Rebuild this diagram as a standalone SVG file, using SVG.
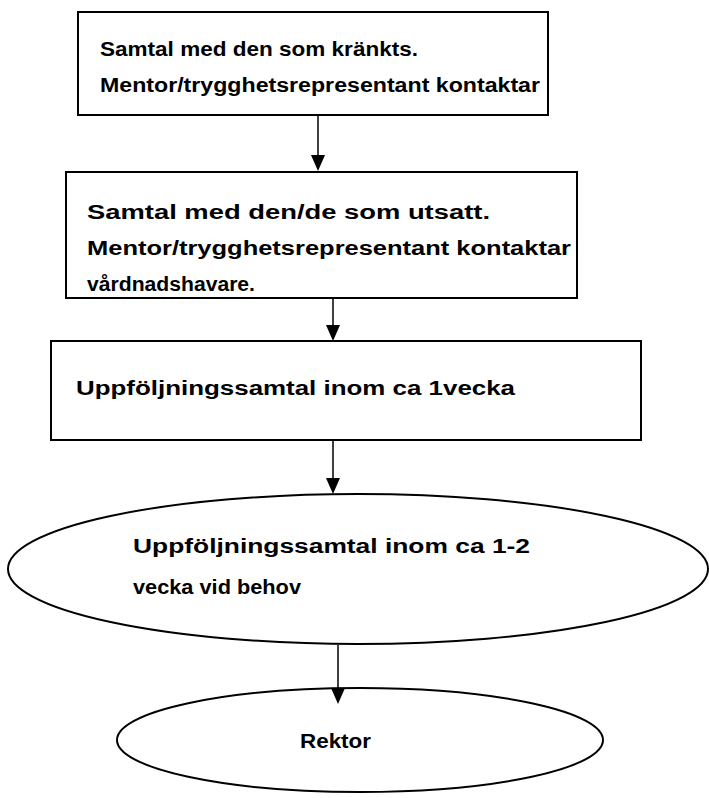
<svg xmlns="http://www.w3.org/2000/svg" width="709" height="798" viewBox="0 0 709 798">
<style>
.n{fill:#fff;stroke:#000;stroke-width:2}
.t{font-family:"Liberation Sans",Arial,sans-serif;font-weight:bold;font-size:20px;fill:#000}
.c{stroke:#000;stroke-width:1.5;fill:none}
.h{fill:#000}
</style>
<rect width="709" height="798" fill="#fff"/>
<g id="box1">
<rect class="n" x="78" y="12" width="470" height="103"/>
<text class="t" x="100" y="56" textLength="318" lengthAdjust="spacingAndGlyphs">Samtal med den som kränkts.</text>
<text class="t" x="100" y="92" textLength="440" lengthAdjust="spacingAndGlyphs">Mentor/trygghetsrepresentant kontaktar</text>
</g>
<g id="box2">
<rect class="n" x="66" y="172" width="511" height="126"/>
<text class="t" x="87" y="219" textLength="403" lengthAdjust="spacingAndGlyphs">Samtal med den/de som utsatt.</text>
<text class="t" x="87" y="255" textLength="484" lengthAdjust="spacingAndGlyphs">Mentor/trygghetsrepresentant kontaktar</text>
<text class="t" x="87" y="291" textLength="168" lengthAdjust="spacingAndGlyphs">vårdnadshavare.</text>
</g>
<g id="box3">
<rect class="n" x="51" y="341" width="590" height="99"/>
<text class="t" x="76" y="395" textLength="439" lengthAdjust="spacingAndGlyphs">Uppföljningssamtal inom ca 1vecka</text>
</g>
<g id="ellipse1">
<ellipse class="n" cx="358" cy="569" rx="350" ry="75"/>
<text class="t" x="133" y="553" textLength="397" lengthAdjust="spacingAndGlyphs">Uppföljningssamtal inom ca 1-2</text>
<text class="t" x="133" y="594" textLength="168" lengthAdjust="spacingAndGlyphs">vecka vid behov</text>
</g>
<g id="ellipse2">
<ellipse class="n" cx="360" cy="740" rx="243" ry="52"/>
<text class="t" x="300" y="748" textLength="71" lengthAdjust="spacingAndGlyphs">Rektor</text>
</g>
<g id="connectors">
<path class="c" d="M318,116 L318,158"/>
<path class="h" d="M311,155 L325,155 L318,171 z"/>
<path class="c" d="M333,299 L333,328"/>
<path class="h" d="M326,325 L340,325 L333,341 z"/>
<path class="c" d="M333,441 L333,481"/>
<path class="h" d="M326,478 L340,478 L333,494 z"/>
<path class="c" d="M338,645 L338,691"/>
<path class="h" d="M331,688 L345,688 L338,704 z"/>
</g>
</svg>
